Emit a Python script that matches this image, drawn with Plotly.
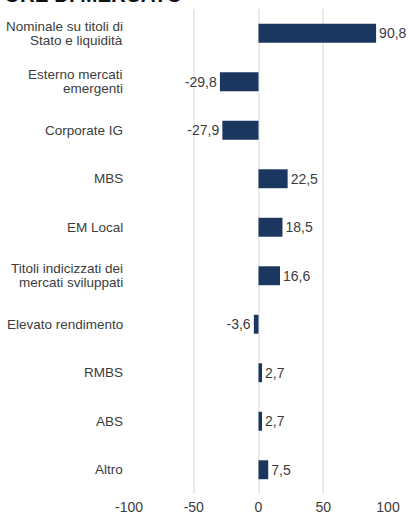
import plotly.graph_objects as go

categories = [
    "Nominale su titoli di\nStato e liquidità",
    "Esterno mercati\nemergenti",
    "Corporate IG",
    "MBS",
    "EM Local",
    "Titoli indicizzati dei\nmercati sviluppati",
    "Elevato rendimento",
    "RMBS",
    "ABS",
    "Altro",
]
values = [90.8, -29.8, -27.9, 22.5, 18.5, 16.6, -3.6, 2.7, 2.7, 7.5]
tick_values = [-100, -50, 0, 50, 100]
tick_labels = ["-100", "-50", "0", "50", "100"]
title_text = "SETTORE DI MERCATO"

FONT = "Liberation Sans, Arial, sans-serif"
BAR = "#1b365f"
TXT = "#3c3c3c"

W, H = 408, 515
ML, MR, MT, MB = 129, 20, 9, 21

fig = go.Figure(
    go.Bar(
        x=values,
        y=list(range(len(categories))),
        orientation="h",
        marker=dict(color=BAR, line=dict(width=0)),
        text=[f"{v:.1f}".replace(".", ",") for v in values],
        textposition="outside",
        cliponaxis=False,
        textfont=dict(family=FONT, size=14, color=TXT),
        hoverinfo="skip",
    )
)

annotations = []
for i, lab in enumerate(categories):
    lines = lab.split("\n")
    n = len(lines)
    for j, line in enumerate(lines):
        off = (j - (n - 1) / 2) * 14
        annotations.append(
            dict(
                x=0, xref="paper", y=i, yref="y",
                text=line, showarrow=False,
                xanchor="right", yanchor="middle",
                xshift=-4, yshift=-off,
                font=dict(family=FONT, size=13.5, color=TXT),
            )
        )

annotations.append(
    dict(
        x=(184 - ML) / (W - ML - MR), xref="paper", y=1, yref="paper",
        text=f"<b>{title_text}</b>", showarrow=False,
        xanchor="right", yanchor="bottom", yshift=1,
        font=dict(family=FONT, size=20.5, color="#111111"),
    )
)

fig.update_layout(
    width=W, height=H,
    margin=dict(l=ML, r=MR, t=MT, b=MB, autoexpand=False),
    plot_bgcolor="white", paper_bgcolor="white",
    bargap=0.61,
    showlegend=False,
    annotations=annotations,
    xaxis=dict(
        range=[-100, 100],
        tickvals=tick_values, ticktext=tick_labels,
        showgrid=True, gridcolor="#ebebeb", gridwidth=2,
        zeroline=False, showline=False, ticks="",
        automargin=False,
        ticklabelstandoff=3,
        tickfont=dict(family=FONT, size=14, color=TXT),
        fixedrange=True,
    ),
    yaxis=dict(
        range=[len(categories) - 0.5, -0.5],
        showticklabels=False, showgrid=False, zeroline=False,
        showline=False, ticks="", automargin=False,
        fixedrange=True,
    ),
)

fig.write_html(
    "out.html",
    config={"displayModeBar": False},
    post_script="document.body.style.margin='0';document.body.style.overflow='hidden';",
)
